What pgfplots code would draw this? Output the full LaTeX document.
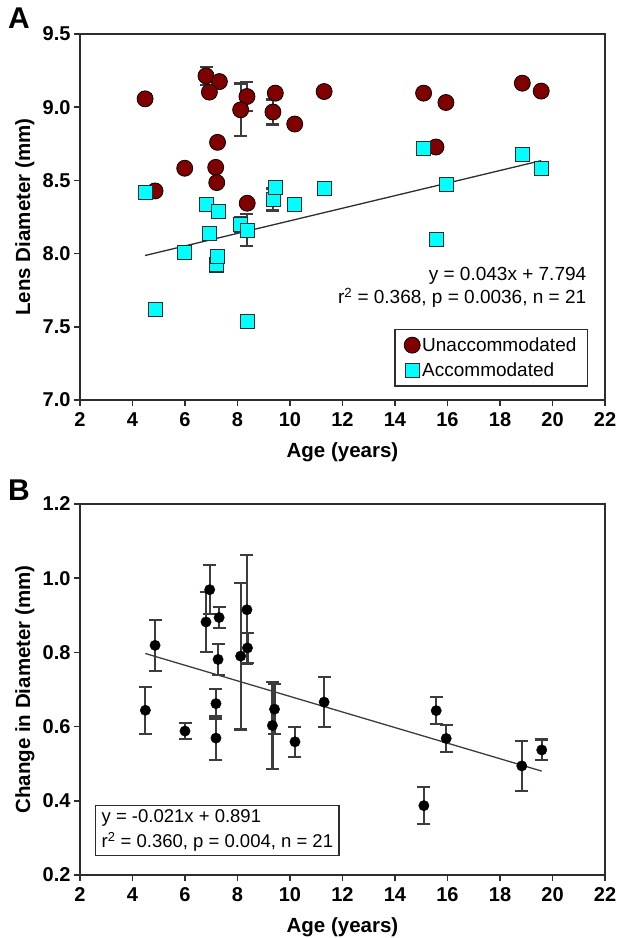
\documentclass[border=0pt]{standalone}
\usepackage{fontspec}
\setmainfont{Liberation Sans}
\usepackage{pgfplots}
\pgfplotsset{compat=1.18}
\definecolor{maroonc}{RGB}{128,0,0}
\definecolor{aquac}{RGB}{0,255,255}
\definecolor{axgray}{RGB}{45,45,45}
\definecolor{errgray}{RGB}{60,60,60}

\pgfplotstableread{
x y e
4.48 9.057 0.03
6.80 9.214 0.06
7.31 9.175 0.02
6.93 9.103 0.03
8.36 9.073 0.10
8.12 8.982 0.18
9.44 9.096 0.03
9.35 8.967 0.085
10.18 8.885 0.01
11.30 9.107 0.03
7.24 8.760 0.01
5.99 8.583 0.01
7.17 8.589 0.01
7.21 8.485 0.01
4.86 8.428 0.02
8.37 8.344 0.01
15.09 9.096 0.01
15.94 9.032 0.01
18.85 9.164 0.01
19.57 9.110 0.02
15.56 8.728 0.01
}\unacc

\pgfplotstableread{
x y e
4.48 8.419 0.01
4.86 7.618 0.01
5.99 8.006 0.01
6.80 8.335 0.02
6.94 8.140 0.01
7.21 7.916 0.01
7.18 7.926 0.01
7.23 7.983 0.01
7.28 8.287 0.01
8.12 8.199 0.05
8.36 8.160 0.11
8.37 7.538 0.01
9.35 8.369 0.075
9.43 8.453 0.02
10.16 8.333 0.01
11.30 8.446 0.01
15.09 8.717 0.01
15.57 8.095 0.01
15.94 8.474 0.01
18.84 8.678 0.04
19.57 8.580 0.01
}\acc

\pgfplotstableread{
x y e
4.49 0.644 0.063
4.86 0.819 0.069
6.00 0.588 0.022
6.80 0.882 0.081
6.94 0.969 0.066
7.18 0.662 0.040
7.18 0.569 0.060
7.26 0.781 0.042
7.30 0.894 0.028
8.12 0.790 0.198
8.36 0.915 0.147
8.38 0.812 0.040
9.33 0.603 0.117
9.41 0.647 0.068
10.19 0.559 0.040
11.30 0.666 0.068
15.10 0.387 0.050
15.57 0.643 0.037
15.95 0.568 0.037
18.83 0.494 0.067
19.59 0.537 0.028
}\change

\pgfplotsset{
  myaxis/.style={
    scale only axis, width=525pt,
    xmin=2, xmax=22, xtick={2,4,6,8,10,12,14,16,18,20,22},
    tick align=outside, xtick pos=bottom, ytick pos=left,
    major tick length=6pt,
    axis line style={line width=1.6pt, color=axgray},
    every tick/.style={line width=1.6pt, color=axgray},
    tick label style={font=\bfseries\fontsize{20}{24}\selectfont},
    xticklabel style={yshift=-3pt},
    /pgf/number format/assume math mode=true,
    yticklabel style={/pgf/number format/.cd, fixed, fixed zerofill, precision=1},
    xlabel style={font=\bfseries\fontsize{20.5}{24}\selectfont, at={(axis description cs:0.5,0)}, anchor=center, yshift=-52pt},
    ylabel style={font=\bfseries\fontsize{20.5}{24}\selectfont, at={(axis description cs:-0.105,0.5)}, anchor=center},
    clip=false,
  },
  myerr/.style={error bars/.cd, y dir=both, y explicit,
    error bar style={line width=2.2pt, color=errgray},
    error mark options={rotate=90, mark size=6.5pt, line width=2.2pt, color=errgray}},
}

\begin{document}
\begin{tikzpicture}[x=1pt,y=1pt]
\path[use as bounding box] (0,0) rectangle (622,938);

\node[font=\bfseries\fontsize{30}{34}\selectfont] at (19,920) {A};
\node[font=\bfseries\fontsize{30}{34}\selectfont] at (19,448) {B};

\begin{axis}[myaxis, at={(80pt,538pt)}, anchor=south west, height=366pt,
  ymin=7, ymax=9.5, ytick={7,7.5,8,8.5,9,9.5},
  xlabel={Age (years)}, ylabel={Lens Diameter (mm)},
  legend style={at={(axis description cs:0.968,0.036)}, anchor=south east,
    draw=axgray, line width=1.6pt, font=\fontsize{19}{22}\selectfont,
    row sep=6pt, inner xsep=9pt, inner ysep=6pt},
  legend cell align=left]
\addplot[color=axgray, line width=1.3pt, forget plot] coordinates {(4.48,7.987) (19.57,8.635)};
\addplot[only marks, mark=*, mark size=8pt, mark options={fill=maroonc, draw=black, line width=0.8pt}, myerr]
  table[x=x, y=y, y error=e] {\unacc};
\addlegendentry{Unaccommodated}
\addplot[only marks, mark=square*, mark size=7pt, mark options={fill=aquac, draw=axgray, line width=0.8pt}, myerr]
  table[x=x, y=y, y error=e] {\acc};
\addlegendentry{Accommodated}
\node[anchor=east, font=\fontsize{19}{22}\selectfont] at (axis description cs:0.971,0.3396) {y = 0.043x + 7.794};
\node[anchor=east, font=\fontsize{19}{22}\selectfont] at (axis description cs:0.971,0.2795) {r\textsuperscript{2} = 0.368, p = 0.0036, n = 21};
\end{axis}

\begin{axis}[myaxis, at={(80pt,63pt)}, anchor=south west, height=371pt,
  ymin=0.2, ymax=1.2, ytick={0.2,0.4,0.6,0.8,1.0,1.2},
  xlabel={Age (years)}, ylabel={Change in Diameter (mm)}]
\addplot[color=errgray, line width=1.3pt] coordinates {(4.49,0.797) (19.59,0.480)};
\addplot[only marks, mark=*, mark size=5.2pt, mark options={fill=black, draw=black}, myerr]
  table[x=x, y=y, y error=e] {\change};
\node[anchor=south west, draw=axgray, line width=1.3pt, align=left,
  font=\fontsize{18.5}{25}\selectfont, inner xsep=6pt, inner ysep=4pt]
  at (axis description cs:0.0286,0.0512)
  {y = -0.021x + 0.891\\r\textsuperscript{2} = 0.360, p = 0.004, n = 21};
\end{axis}
\end{tikzpicture}
\end{document}
